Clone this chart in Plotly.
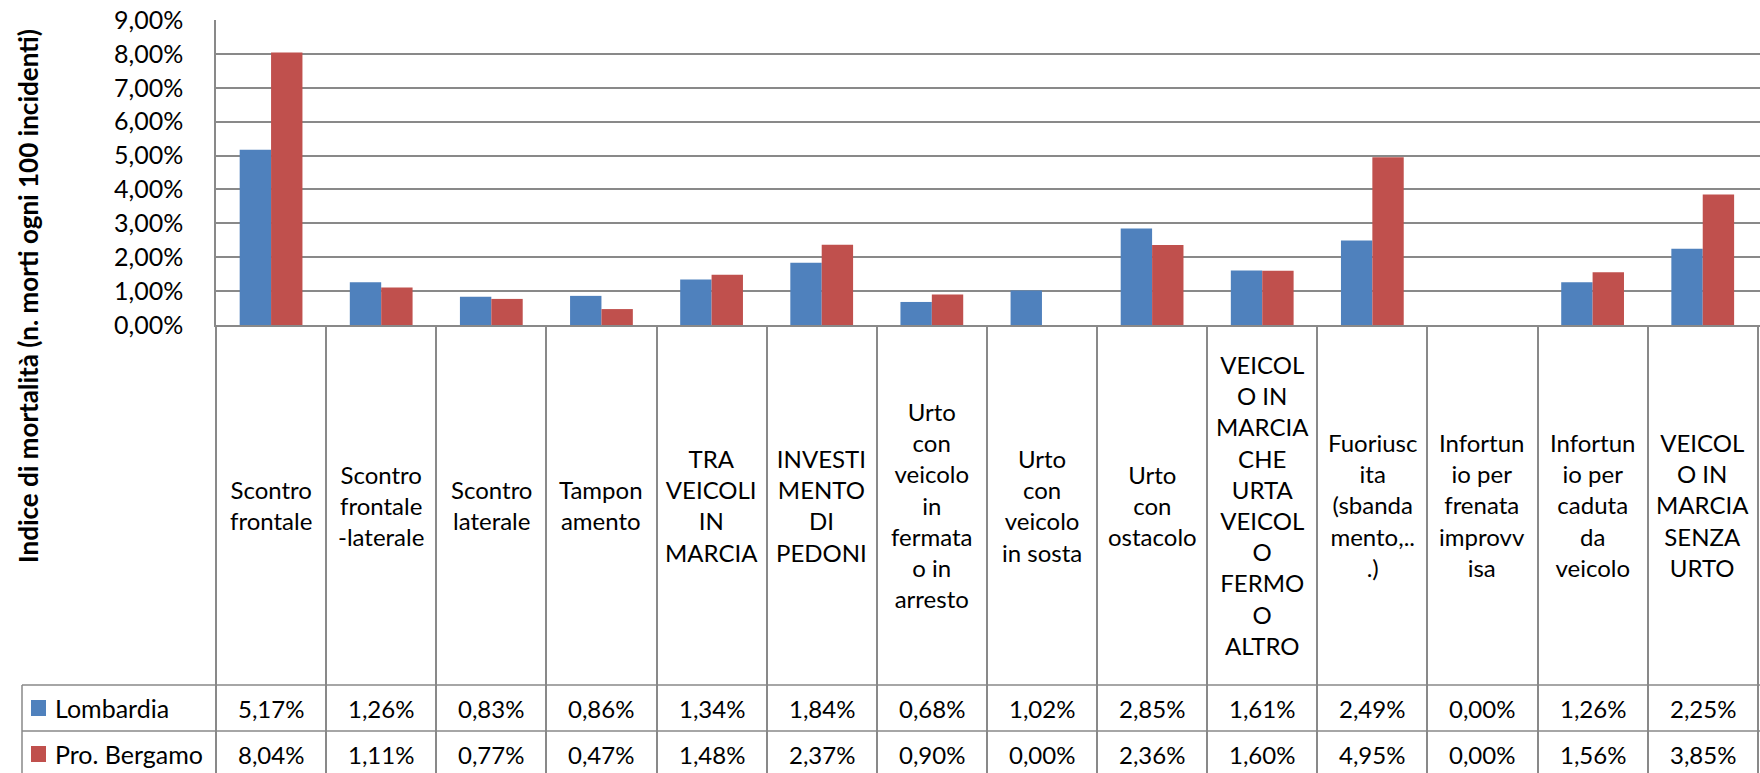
"""Indice di mortalità per natura dell'incidente: Lombardia vs Provincia di Bergamo."""

import plotly.graph_objects as go

WIDTH = 1760
HEIGHT = 773

# plot area in pixels (Excel-style chart with a data table underneath)
_LEFT = 216
_TOP = 20
_BOTTOM = 325
_LABELS_BOTTOM = 685
_ROW_SPLIT = 731

_BLUE = "#4F81BD"
_RED = "#C0504D"
_GRID = "#898989"
_FONT = "Lato, Calibri, Arial, sans-serif"
_TEXT_SIZE = 24

CATEGORIES = [
    "Scontro<br>frontale",
    "Scontro<br>frontale<br>-laterale",
    "Scontro<br>laterale",
    "Tampon<br>amento",
    "TRA<br>VEICOLI<br>IN<br>MARCIA",
    "INVESTI<br>MENTO<br>DI<br>PEDONI",
    "Urto<br>con<br>veicolo<br>in<br>fermata<br>o in<br>arresto",
    "Urto<br>con<br>veicolo<br>in sosta",
    "Urto<br>con<br>ostacolo",
    "VEICOL<br>O IN<br>MARCIA<br>CHE<br>URTA<br>VEICOL<br>O<br>FERMO<br>O<br>ALTRO",
    "Fuoriusc<br>ita<br>(sbanda<br>mento,..<br>.)",
    "Infortun<br>io per<br>frenata<br>improvv<br>isa",
    "Infortun<br>io per<br>caduta<br>da<br>veicolo",
    "VEICOL<br>O IN<br>MARCIA<br>SENZA<br>URTO",
]

SERIES_NAMES = ["Lombardia", "Pro. Bergamo"]
LOMBARDIA = [5.17, 1.26, 0.83, 0.86, 1.34, 1.84, 0.68, 1.02, 2.85, 1.61, 2.49, 0.00, 1.26, 2.25]
BERGAMO = [8.04, 1.11, 0.77, 0.47, 1.48, 2.37, 0.90, 0.00, 2.36, 1.60, 4.95, 0.00, 1.56, 3.85]

Y_TITLE = "Indice di mortalità (n. morti ogni 100 incidenti)"


def _px_x(px: float) -> float:
    return (px - _LEFT) / (WIDTH - _LEFT)


def _px_y(py: float) -> float:
    return (_BOTTOM - py) / (_BOTTOM - _TOP)


def _pct(value: float) -> str:
    return f"{value:.2f}%".replace(".", ",")


x_keys = [label.replace("<br>", " ") for label in CATEGORIES]

fig = go.Figure()
for name, values, color in (
    (SERIES_NAMES[0], LOMBARDIA, _BLUE),
    (SERIES_NAMES[1], BERGAMO, _RED),
):
    fig.add_trace(
        go.Bar(
            x=x_keys,
            y=[v / 100 for v in values],
            name=name,
            marker={"color": color, "line": {"width": 0}},
            hovertemplate="%{x}<br>%{y:.2%}<extra>" + name + "</extra>",
        )
    )

text_font = {"size": _TEXT_SIZE, "color": "black", "family": _FONT}

annotations = []
# category labels, vertically centred in the band under the axis
label_mid = _px_y((_BOTTOM + _LABELS_BOTTOM) / 2)
for key, label in zip(x_keys, CATEGORIES):
    annotations.append(
        dict(
            x=key, xref="x", y=label_mid, yref="paper",
            text=label, showarrow=False, align="center",
            xanchor="center", yanchor="middle", font=text_font,
        )
    )

# data table rows
row_mids = [(_LABELS_BOTTOM + _ROW_SPLIT) / 2, (_ROW_SPLIT + HEIGHT) / 2 + 2]
shapes = []
for row_mid, name, values, color in zip(
    row_mids, SERIES_NAMES, (LOMBARDIA, BERGAMO), (_BLUE, _RED)
):
    for key, value in zip(x_keys, values):
        annotations.append(
            dict(
                x=key, xref="x", y=_px_y(row_mid), yref="paper",
                text=_pct(value), showarrow=False,
                xanchor="center", yanchor="middle", font=text_font,
            )
        )
    annotations.append(
        dict(
            x=_px_x(53), xref="paper", y=_px_y(row_mid), yref="paper",
            text=name, showarrow=False, xanchor="left", yanchor="middle",
            font={**text_font, "size": 25},
        )
    )
    shapes.append(
        dict(
            type="rect", xref="paper", yref="paper",
            x0=_px_x(31), x1=_px_x(46),
            y0=_px_y(row_mid - 8), y1=_px_y(row_mid + 8),
            fillcolor=color, line={"width": 0},
        )
    )

for py in (_LABELS_BOTTOM, _ROW_SPLIT):
    shapes.append(
        dict(
            type="line", xref="paper", yref="paper",
            x0=_px_x(22), x1=1, y0=_px_y(py), y1=_px_y(py),
            line={"color": _GRID, "width": 1.5},
        )
    )
shapes.append(
    dict(
        type="line", xref="paper", yref="paper",
        x0=_px_x(22), x1=_px_x(22), y0=_px_y(_LABELS_BOTTOM), y1=_px_y(HEIGHT),
        line={"color": _GRID, "width": 1.5},
    )
)

annotations.append(
    dict(
        x=_px_x(28), xref="paper", y=_px_y(296), yref="paper",
        text=f"<b>{Y_TITLE}</b>", textangle=-90, showarrow=False,
        xanchor="center", yanchor="middle",
        font={"size": 26, "color": "black", "family": _FONT},
    )
)

fig.update_layout(
    width=WIDTH,
    height=HEIGHT,
    margin={"l": _LEFT, "r": 0, "t": _TOP, "b": HEIGHT - _BOTTOM},
    paper_bgcolor="white",
    plot_bgcolor="white",
    separators=",.",
    barmode="group",
    bargap=0.43,
    bargroupgap=0,
    showlegend=False,
    font={"family": _FONT, "color": "black", "size": _TEXT_SIZE},
    annotations=annotations,
    shapes=shapes,
)
fig.update_xaxes(
    # the right-hand border of the last column sits just past the window edge
    range=[-0.5, len(CATEGORIES) - 0.48],
    showticklabels=False,
    showgrid=False,
    showline=True,
    linecolor=_GRID,
    linewidth=1.5,
    ticks="outside",
    tickson="boundaries",
    ticklen=HEIGHT - _BOTTOM,
    tickcolor=_GRID,
    tickwidth=1.5,
    fixedrange=True,
)
fig.update_yaxes(
    range=[0, 0.09],
    dtick=0.01,
    tickformat=".2%",
    showgrid=True,
    gridcolor=_GRID,
    gridwidth=1.5,
    showline=True,
    linecolor=_GRID,
    linewidth=1.5,
    zeroline=False,
    ticks="",
    ticklabelstandoff=26,
    tickfont={"size": 25, "color": "black", "family": _FONT},
    fixedrange=True,
)

# the page's default body margin would push the chart off the window edges
fig.write_html(
    "out.html",
    config={"displayModeBar": False},
    post_script="document.body.style.margin='0';document.body.style.overflow='hidden';",
)
